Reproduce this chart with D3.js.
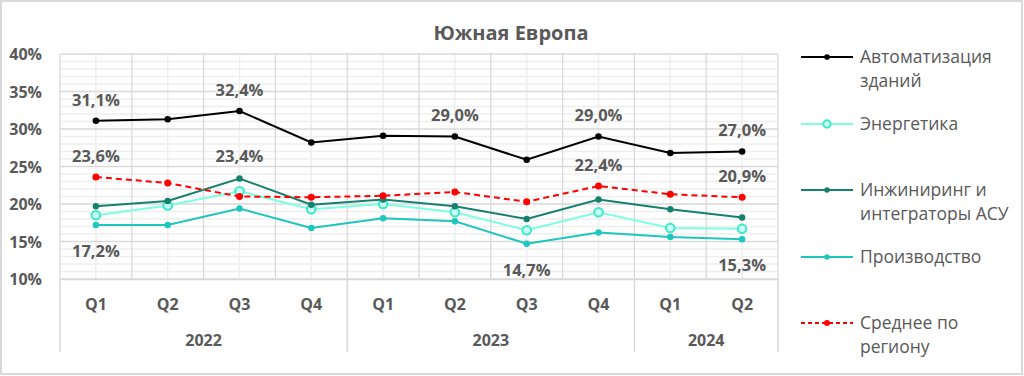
<!DOCTYPE html>
<html>
<head>
<meta charset="utf-8">
<script src="https://cdn.jsdelivr.net/npm/d3@7"></script>
<style>
  body { margin: 0; background: #fff; }
  svg { display: block; font-family: "Open Sans", sans-serif; }
</style>
</head>
<body>
<svg id="chart" width="1024" height="376"></svg>
<script>
// данные
var quarters = ["Q1", "Q2", "Q3", "Q4", "Q1", "Q2", "Q3", "Q4", "Q1", "Q2"];
var quarterYears = ["2022", "2022", "2022", "2022", "2023", "2023", "2023", "2023", "2024", "2024"];
var years = ["2022", "2023", "2024"];
var yTicks = [10, 15, 20, 25, 30, 35, 40];

var automation = [31.1, 31.3, 32.4, 28.2, 29.1, 29.0, 25.9, 29.0, 26.8, 27.0];
var energy = [18.5, 19.8, 21.7, 19.3, 20.0, 18.9, 16.5, 18.9, 16.8, 16.7];
var engineering = [19.7, 20.4, 23.4, 19.9, 20.6, 19.7, 18.0, 20.6, 19.3, 18.2];
var production = [17.2, 17.2, 19.4, 16.8, 18.1, 17.7, 14.7, 16.2, 15.6, 15.3];
var average = [23.6, 22.8, 21.0, 20.9, 21.1, 21.6, 20.3, 22.4, 21.3, 20.9];

var seriesNames = ["Автоматизация зданий", "Энергетика", "Инжиниринг и интеграторы АСУ", "Производство", "Среднее по региону"];

// какие точки подписаны
var automationLabels = [0, 2, 5, 7, 9];
var engineeringLabels = [2];
var productionLabels = [0, 6, 9];
var averageLabels = [0, 7, 9];

(function() {
    "use strict";

    var sText = "#595959";
    var keys = quarters.map((q, i) => quarterYears[i] + " " + q);

    var svg = d3.select("#chart");

    // рамка
    svg.append("rect")
        .attr("x", 1).attr("y", 1)
        .attr("width", 1021).attr("height", 373)
        .attr("fill", "#fff")
        .attr("stroke", "#d9d9d9")
        .attr("stroke-width", 2);

    // заголовок
    svg.append("text")
        .attr("x", 511).attr("y", 40)
        .attr("text-anchor", "middle")
        .attr("font-size", 20)
        .attr("font-weight", "bold")
        .attr("fill", sText)
        .text("Южная Европа");

    var left = 60, right = 778, top = 54, bottom = 279;

    var xScale = d3.scaleBand().domain(keys).range([left, right]);
    var yScale = d3.scaleLinear().domain([10, 40]).range([bottom, top]);
    var cx = i => xScale(keys[i]) + xScale.bandwidth() / 2;

    var grid = svg.append("g");

    // второстепенная сетка
    grid.selectAll(".hminor")
        .data(d3.range(10, 41, 1).filter(v => v % 5 !== 0))
        .join("line")
        .attr("x1", left).attr("x2", right)
        .attr("y1", d => yScale(d)).attr("y2", d => yScale(d))
        .attr("stroke", "#eeeeee").attr("stroke-width", 1.3);

    grid.selectAll(".vminor")
        .data(keys)
        .join("line")
        .attr("x1", d => xScale(d) + xScale.bandwidth() / 2)
        .attr("x2", d => xScale(d) + xScale.bandwidth() / 2)
        .attr("y1", top).attr("y2", bottom)
        .attr("stroke", "#eeeeee").attr("stroke-width", 1.5);

    // основная сетка
    grid.selectAll(".vmajor")
        .data(keys.slice(1))
        .join("line")
        .attr("x1", d => xScale(d)).attr("x2", d => xScale(d))
        .attr("y1", top).attr("y2", bottom)
        .attr("stroke", "#d9d9d9").attr("stroke-width", 1.3);
    grid.append("line")
        .attr("x1", right).attr("x2", right)
        .attr("y1", top).attr("y2", bottom)
        .attr("stroke", "#d9d9d9").attr("stroke-width", 1.3);

    grid.selectAll(".hmajor")
        .data(yTicks)
        .join("line")
        .attr("x1", left).attr("x2", right)
        .attr("y1", d => yScale(d)).attr("y2", d => yScale(d))
        .attr("stroke", "#d9d9d9").attr("stroke-width", 1.3);

    grid.append("line")
        .attr("x1", left).attr("x2", left)
        .attr("y1", top).attr("y2", bottom)
        .attr("stroke", "#d9d9d9").attr("stroke-width", 1.3);

    // ось y
    var yAxis = svg.append("g")
        .attr("transform", `translate(${left - 18}, 0)`)
        .call(d3.axisLeft(yScale).tickValues(yTicks).tickSize(0).tickFormat(d => d + "%"));
    yAxis.select(".domain").remove();
    yAxis.selectAll("text")
        .attr("font-family", "Open Sans")
        .attr("font-size", 16)
        .attr("font-weight", "bold")
        .attr("fill", sText)
        .attr("x", 0)
        .attr("dy", "0.35em");

    // ось x: кварталы
    var xAxis = svg.append("g")
        .attr("transform", `translate(0, ${bottom})`)
        .call(d3.axisBottom(xScale).tickSize(0).tickFormat((d, i) => quarters[i]));
    xAxis.select(".domain").attr("stroke", "#d9d9d9").attr("stroke-width", 1.3);
    xAxis.selectAll("text")
        .attr("font-family", "Open Sans")
        .attr("font-size", 16)
        .attr("font-weight", "bold")
        .attr("fill", sText)
        .attr("y", 25)
        .attr("dy", "0.35em");

    // ось x: годы
    var yearBounds = years.map(y => {
        var idx = quarterYears.map((v, i) => v === y ? i : -1).filter(i => i >= 0);
        return {
            year: y,
            x0: xScale(keys[idx[0]]),
            x1: xScale(keys[idx[idx.length - 1]]) + xScale.bandwidth()
        };
    });

    svg.selectAll(".ysep")
        .data([left].concat(yearBounds.map(d => d.x1)))
        .join("line")
        .attr("x1", d => d).attr("x2", d => d)
        .attr("y1", bottom).attr("y2", 352)
        .attr("stroke", "#d9d9d9").attr("stroke-width", 1.5);

    svg.selectAll(".ylab")
        .data(yearBounds)
        .join("text")
        .attr("x", d => (d.x0 + d.x1) / 2)
        .attr("y", 340)
        .attr("dy", "0.35em")
        .attr("text-anchor", "middle")
        .attr("font-size", 16)
        .attr("font-weight", "bold")
        .attr("fill", sText)
        .text(d => d.year);

    // серии
    var series = [
        { name: seriesNames[0], values: automation, color: "#000000", width: 2, dash: null,
          r: 3.3, fill: "#000000", mstroke: "#000000", mwidth: 0 },
        { name: seriesNames[1], values: energy, color: "#7dffe0", width: 2, dash: null,
          r: 4.3, fill: "#c8fff2", mstroke: "#3ee8c8", mwidth: 2 },
        { name: seriesNames[2], values: engineering, color: "#16806f", width: 2, dash: null,
          r: 3.2, fill: "#16806f", mstroke: "#16806f", mwidth: 0 },
        { name: seriesNames[3], values: production, color: "#1ec6bd", width: 2, dash: null,
          r: 3.2, fill: "#1ec6bd", mstroke: "#1ec6bd", mwidth: 0 },
        { name: seriesNames[4], values: average, color: "#ff0000", width: 2, dash: "6,4",
          r: 3.5, fill: "#ff0000", mstroke: "#ff0000", mwidth: 0 }
    ];

    var line = d3.line()
        .x((d, i) => cx(i))
        .y(d => yScale(d));

    // порядок отрисовки: сначала нижние
    [3, 1, 2, 4, 0].forEach(k => {
        var s = series[k];
        var g = svg.append("g");
        g.append("path")
            .datum(s.values)
            .attr("fill", "none")
            .attr("stroke", s.color)
            .attr("stroke-width", s.width)
            .attr("stroke-dasharray", s.dash)
            .attr("d", line);
        g.selectAll("circle")
            .data(s.values)
            .join("circle")
            .attr("cx", (d, i) => cx(i))
            .attr("cy", d => yScale(d))
            .attr("r", s.r)
            .attr("fill", s.fill)
            .attr("stroke", s.mstroke)
            .attr("stroke-width", s.mwidth);
    });

    // подписи данных
    var fmt = v => d3.format(".1f")(v).replace(".", ",") + "%";
    var labels = [];
    automationLabels.forEach(i => labels.push({ i: i, v: automation[i], dy: -21 }));
    engineeringLabels.forEach(i => labels.push({ i: i, v: engineering[i], dy: -22 }));
    averageLabels.forEach(i => labels.push({ i: i, v: average[i], dy: -21 }));
    productionLabels.forEach(i => labels.push({ i: i, v: production[i], dy: 26 }));

    svg.selectAll(".dlab")
        .data(labels)
        .join("text")
        .attr("x", d => cx(d.i))
        .attr("y", d => yScale(d.v) + d.dy)
        .attr("dy", "0.35em")
        .attr("text-anchor", "middle")
        .attr("font-size", 16.5)
        .attr("font-weight", "bold")
        .attr("fill", sText)
        .text(d => fmt(d.v));

    // легенда
    var legendRows = [
        { lines: ["Автоматизация", "зданий"], y: 57 },
        { lines: ["Энергетика"], y: 124 },
        { lines: ["Инжиниринг и", "интеграторы АСУ"], y: 190 },
        { lines: ["Производство"], y: 257 },
        { lines: ["Среднее по", "региону"], y: 323 }
    ];

    var legend = svg.append("g");
    legendRows.forEach((row, k) => {
        var s = series[k];
        var g = legend.append("g").attr("transform", `translate(0, ${row.y})`);
        g.append("line")
            .attr("x1", 801).attr("x2", 853)
            .attr("y1", 0).attr("y2", 0)
            .attr("stroke", s.color)
            .attr("stroke-width", s.width)
            .attr("stroke-dasharray", s.dash ? "4,3" : null);
        g.append("circle")
            .attr("cx", 827).attr("cy", 0)
            .attr("r", s.r * 0.85)
            .attr("fill", s.fill)
            .attr("stroke", s.mstroke)
            .attr("stroke-width", s.mwidth);
        g.selectAll("text")
            .data(row.lines)
            .join("text")
            .attr("x", 860)
            .attr("y", (d, i) => i * 23.5)
            .attr("dy", "0.35em")
            .attr("font-size", 17.5)
            .attr("fill", sText)
            .text(d => d);
    });
})();
</script>
</body>
</html>
